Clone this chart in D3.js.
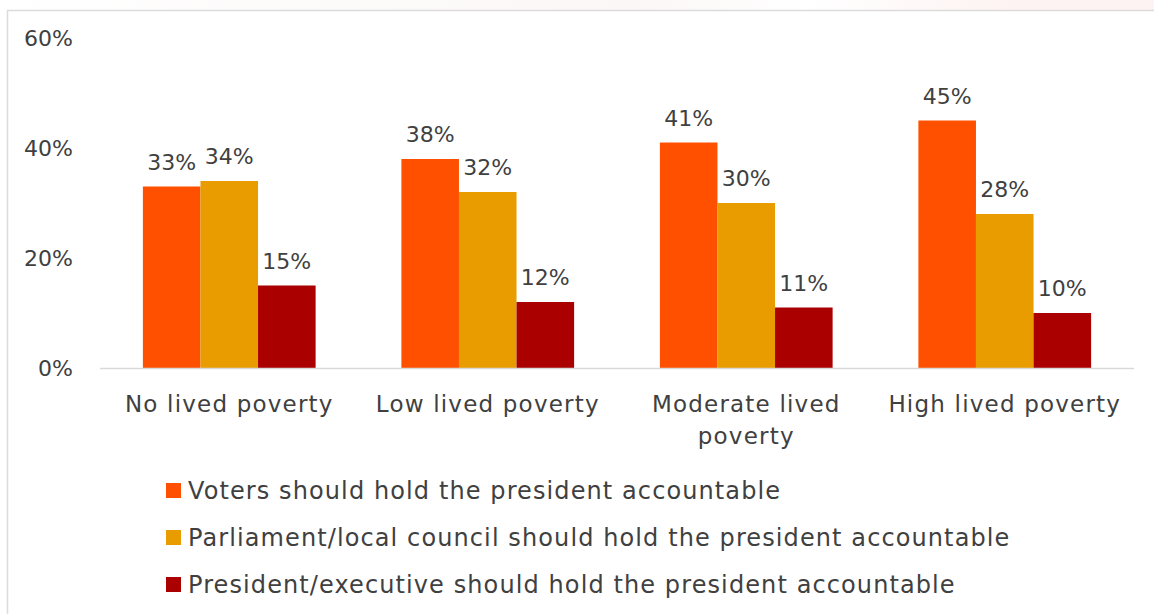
<!DOCTYPE html>
<html>
<head>
<meta charset="utf-8">
<script src="https://cdn.jsdelivr.net/npm/d3@7"></script>
<style>
  html, body { margin: 0; padding: 0; background: #fff; }
  svg { display: block; }
  text { font-family: "DejaVu Sans", sans-serif; fill: #404040; }
</style>
</head>
<body>
<svg id="chart" width="1154" height="614"></svg>
<script>
// Categories and series values (percent)
const categories = ["No lived poverty", "Low lived poverty", "Moderate lived poverty", "High lived poverty"];
const categoryLines = [["No lived poverty"], ["Low lived poverty"], ["Moderate lived", "poverty"], ["High lived poverty"]];
const seriesNames = [
  "Voters should hold the president accountable",
  "Parliament/local council should hold the president accountable",
  "President/executive should hold the president accountable"
];
const voters = [33, 38, 41, 45];
const parliament = [34, 32, 30, 28];
const executive = [15, 12, 11, 10];
const yTicks = [0, 20, 40, 60];
const colors = ["#ff5000", "#e89c00", "#aa0000"];

const series = [voters, parliament, executive];

const svg = d3.select("#chart");
const W = 1154, H = 614;

// faint background strip and frame
const strip = svg.append("defs").append("linearGradient").attr("id", "strip");
strip.append("stop").attr("offset", "0%").attr("stop-color", "#ffffff");
strip.append("stop").attr("offset", "55%").attr("stop-color", "#fbf7f6");
strip.append("stop").attr("offset", "70%").attr("stop-color", "#ffffff");
strip.append("stop").attr("offset", "88%").attr("stop-color", "#fdf3f2");
strip.append("stop").attr("offset", "100%").attr("stop-color", "#fdf3f2");
svg.append("rect").attr("x", 0).attr("y", 0).attr("width", W).attr("height", 10).attr("fill", "url(#strip)");
svg.append("path").attr("d", `M7.5,${H} V10.5 H${W}`).attr("fill", "none").attr("stroke", "#dcdcdc").attr("stroke-width", 1.5);

const plot = { left: 100, right: 1134, top: 38, bottom: 368 };

const x0 = d3.scaleBand().domain(categories).range([plot.left, plot.right]).paddingInner(0).paddingOuter(0);
const x1 = d3.scaleBand().domain(d3.range(series.length)).range([0, x0.bandwidth()]).paddingInner(0).paddingOuter(0.745);
const y = d3.scaleLinear().domain([0, 60]).range([plot.bottom, plot.top]);

// y tick labels
svg.append("g").selectAll("text").data(yTicks).join("text")
  .attr("x", 73).attr("y", d => y(d)).attr("dy", "0.36em")
  .attr("text-anchor", "end").attr("font-size", 22)
  .text(d => d + "%");

// bars
const groups = svg.append("g").selectAll("g").data(categories).join("g")
  .attr("transform", d => `translate(${x0(d)},0)`);

groups.each(function (cat, ci) {
  const g = d3.select(this);
  series.forEach((vals, si) => {
    g.append("rect")
      .attr("x", x1(si)).attr("width", x1.bandwidth())
      .attr("y", y(vals[ci])).attr("height", y(0) - y(vals[ci]))
      .attr("fill", colors[si]);
    g.append("text")
      .attr("x", x1(si) + x1.bandwidth() / 2).attr("y", y(vals[ci]) - 17)
      .attr("text-anchor", "middle").attr("font-size", 22)
      .text(vals[ci] + "%");
  });
});

// baseline axis
svg.append("line").attr("x1", plot.left).attr("x2", plot.right)
  .attr("y1", plot.bottom + 0.5).attr("y2", plot.bottom + 0.5)
  .attr("stroke", "#d9d9d9").attr("stroke-width", 1.5);

// category labels
svg.append("g").selectAll("text").data(categories).join("text")
  .attr("text-anchor", "middle").attr("font-size", 23).attr("letter-spacing", 1.2)
  .attr("transform", d => `translate(${x0(d) + x0.bandwidth() / 2},${plot.bottom + 44})`)
  .each(function (d, i) {
    d3.select(this).selectAll("tspan").data(categoryLines[i]).join("tspan")
      .attr("x", 0).attr("dy", (t, j) => j === 0 ? 0 : 32).text(t => t);
  });

// legend
const legend = svg.append("g").selectAll("g").data(seriesNames).join("g")
  .attr("transform", (d, i) => `translate(166,${491 + i * 47})`);
legend.append("rect").attr("x", 0).attr("y", -8).attr("width", 15).attr("height", 15)
  .attr("fill", (d, i) => colors[i]);
legend.append("text").attr("x", 22).attr("y", 0).attr("dy", "0.35em")
  .attr("font-size", 24).attr("letter-spacing", 1.1).text(d => d);
</script>
</body>
</html>
